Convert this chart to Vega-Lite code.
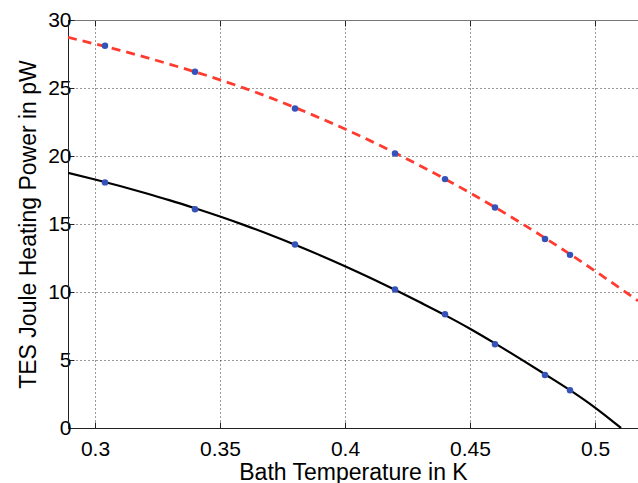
{
  "$schema": "https://vega.github.io/schema/vega-lite/v6.json",
  "width": 570,
  "height": 408,
  "autosize": {"type": "none"},
  "padding": {"left": 68, "top": 20, "right": 0, "bottom": 55},
  "background": "white",
  "config": {
    "view": {"stroke": null},
    "font": "Liberation Sans",
    "axis": {
      "labelFont": "Liberation Sans",
      "titleFont": "Liberation Sans",
      "labelColor": "#000",
      "titleColor": "#000",
      "labelFontSize": 21,
      "titleFontSize": 23,
      "titleFontWeight": "normal",
      "domainColor": "#222",
      "domainWidth": 1,
      "tickColor": "#222",
      "tickWidth": 1,
      "gridColor": "#111",
      "gridDash": [1, 3],
      "gridWidth": 1,
      "gridOpacity": 0.85
    }
  },
  "datasets": {
    "upperFit": [
      {"T": 0.2892, "P": 28.72},
      {"T": 0.30, "P": 28.24},
      {"T": 0.31, "P": 27.77},
      {"T": 0.32, "P": 27.27},
      {"T": 0.33, "P": 26.74},
      {"T": 0.34, "P": 26.19},
      {"T": 0.35, "P": 25.6},
      {"T": 0.36, "P": 24.97},
      {"T": 0.37, "P": 24.29},
      {"T": 0.38, "P": 23.56},
      {"T": 0.39, "P": 22.79},
      {"T": 0.40, "P": 21.98},
      {"T": 0.41, "P": 21.13},
      {"T": 0.42, "P": 20.23},
      {"T": 0.43, "P": 19.29},
      {"T": 0.44, "P": 18.31},
      {"T": 0.45, "P": 17.29},
      {"T": 0.46, "P": 16.23},
      {"T": 0.47, "P": 15.12},
      {"T": 0.48, "P": 13.97},
      {"T": 0.49, "P": 12.78},
      {"T": 0.50, "P": 11.55},
      {"T": 0.51, "P": 10.28},
      {"T": 0.5172, "P": 9.35}
    ],
    "lowerFit": [
      {"T": 0.2892, "P": 18.76},
      {"T": 0.30, "P": 18.27},
      {"T": 0.31, "P": 17.79},
      {"T": 0.32, "P": 17.28},
      {"T": 0.33, "P": 16.74},
      {"T": 0.34, "P": 16.16},
      {"T": 0.35, "P": 15.55},
      {"T": 0.36, "P": 14.9},
      {"T": 0.37, "P": 14.21},
      {"T": 0.38, "P": 13.48},
      {"T": 0.39, "P": 12.71},
      {"T": 0.40, "P": 11.9},
      {"T": 0.41, "P": 11.05},
      {"T": 0.42, "P": 10.16},
      {"T": 0.43, "P": 9.24},
      {"T": 0.44, "P": 8.3},
      {"T": 0.45, "P": 7.3},
      {"T": 0.46, "P": 6.22},
      {"T": 0.47, "P": 5.1},
      {"T": 0.48, "P": 3.95},
      {"T": 0.49, "P": 2.78},
      {"T": 0.50, "P": 1.5},
      {"T": 0.5104, "P": 0.0}
    ],
    "measured": [
      {"T": 0.304, "P": 28.11},
      {"T": 0.34, "P": 26.2},
      {"T": 0.38, "P": 23.5},
      {"T": 0.42, "P": 20.19},
      {"T": 0.44, "P": 18.3},
      {"T": 0.46, "P": 16.22},
      {"T": 0.48, "P": 13.9},
      {"T": 0.49, "P": 12.73},
      {"T": 0.304, "P": 18.06},
      {"T": 0.34, "P": 16.09},
      {"T": 0.38, "P": 13.5},
      {"T": 0.42, "P": 10.18},
      {"T": 0.44, "P": 8.37},
      {"T": 0.46, "P": 6.16},
      {"T": 0.48, "P": 3.9},
      {"T": 0.49, "P": 2.77}
    ]
  },
  "resolve": {"axis": {"x": "independent", "y": "independent"}},
  "layer": [
    {
      "data": {"name": "upperFit"},
      "mark": {"type": "line", "color": "#ff3b30", "strokeWidth": 2.8, "strokeDash": [9, 6], "interpolate": "monotone", "clip": true},
      "encoding": {
        "x": {
          "field": "T", "type": "quantitative",
          "scale": {"domain": [0.2892, 0.5172], "nice": false, "zero": false},
          "axis": {
            "orient": "bottom",
            "values": [0.3, 0.35, 0.4, 0.45, 0.5],
            "format": "~g",
            "title": "Bath Temperature in K",
            "grid": true,
            "tickSize": -6,
            "labelPadding": 16,
            "titlePadding": 2
          }
        },
        "y": {
          "field": "P", "type": "quantitative",
          "scale": {"domain": [0, 30], "nice": false, "zero": true},
          "axis": {
            "orient": "left",
            "values": [0, 5, 10, 15, 20, 25, 30],
            "title": "TES Joule Heating Power in pW",
            "grid": true,
            "tickSize": -6,
            "labelPadding": 3,
            "titlePadding": 7
          }
        }
      }
    },
    {
      "data": {"name": "lowerFit"},
      "mark": {"type": "line", "color": "#000000", "strokeWidth": 2.2, "interpolate": "monotone", "clip": true},
      "encoding": {
        "x": {
          "field": "T", "type": "quantitative",
          "axis": {
            "orient": "top",
            "values": [0.3, 0.35, 0.4, 0.45, 0.5],
            "labels": false,
            "title": null,
            "grid": false,
            "tickSize": -6,
            "domainColor": "#777"
          }
        },
        "y": {"field": "P", "type": "quantitative", "axis": null}
      }
    },
    {
      "data": {"name": "measured"},
      "mark": {"type": "circle", "color": "#3552b8", "size": 42, "opacity": 1},
      "encoding": {
        "x": {"field": "T", "type": "quantitative", "axis": null},
        "y": {"field": "P", "type": "quantitative", "axis": null}
      }
    }
  ]
}
